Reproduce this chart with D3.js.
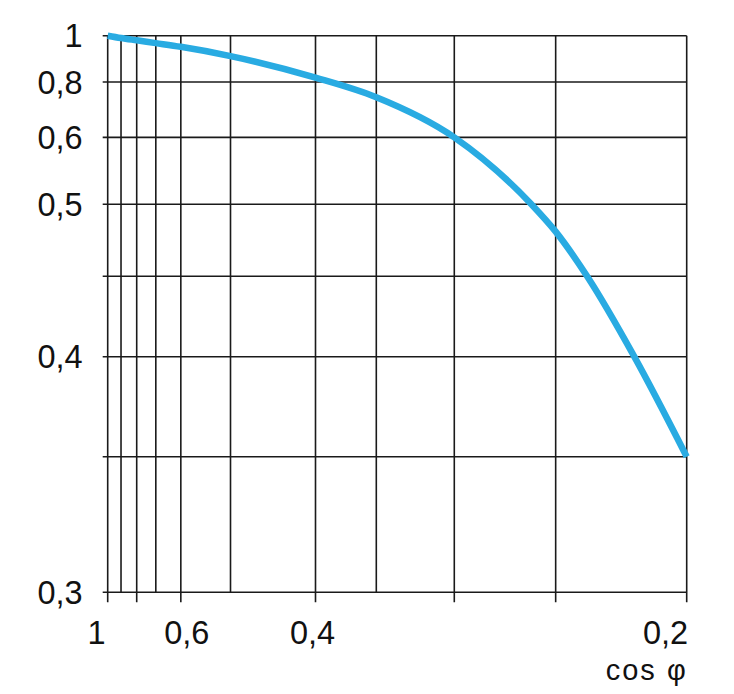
<!DOCTYPE html>
<html>
<head>
<meta charset="utf-8">
<script src="https://cdn.jsdelivr.net/npm/d3@7"></script>
<style>
  body { margin: 0; background: #fff; }
  svg text { font-family: "Liberation Sans", Arial, sans-serif; fill: #111; }
</style>
</head>
<body>
<svg id="chart"></svg>
<script>
// curve (cos phi -> factor)
const cosPhi = [1, 0.9, 0.8, 0.7, 0.6, 0.5, 0.4, 0.35, 0.3, 0.262, 0.25, 0.238, 0.22, 0.2];
const factor = [1, 0.99, 0.98, 0.968, 0.952, 0.912, 0.819, 0.745, 0.6, 0.5, 0.481, 0.45, 0.4, 0.35];

// grid and tick values
const xGrid = [1, 0.9, 0.8, 0.7, 0.6, 0.5, 0.4, 0.35, 0.3, 0.25, 0.2];
const xTicks = [1, 0.8, 0.6, 0.4, 0.3, 0.25, 0.2];
const xLabels = [1, 0.6, 0.4, 0.2];
const yGrid = [1, 0.8, 0.6, 0.5, 0.45, 0.4, 0.35, 0.3];
const yLabels = [1, 0.8, 0.6, 0.5, 0.4, 0.3];

class CosPhiChart {
  constructor(id, width, height) {
    this.width = 579;
    this.height = 556.6;
    this.margin = {left: 107.7, top: 35.7};
    this.svg = d3.select(id)
      .attr('width', width)
      .attr('height', height)
      .append('g')
      .attr('transform', `translate(${this.margin.left}, ${this.margin.top})`);

    // the paper grid is not evenly spaced, so map each gridline to its place
    this.xScale = d3.scaleLinear()
      .domain(xGrid)
      .range([0, 0.023, 0.0501, 0.0831, 0.1263, 0.2121, 0.3589, 0.4639, 0.5986, 0.7737, 1]
        .map(f => f * this.width));
    this.yScale = d3.scaleLinear()
      .domain(yGrid)
      .range([0, 0.0832, 0.1826, 0.3028, 0.4323, 0.5767, 0.7564, 1]
        .map(f => f * this.height));

    this.drawGrid();
    this.drawLabels();
    this.drawCurve();
  }

  fmt(d) {
    return String(d).replace('.', ',');
  }

  drawGrid() {
    const grid = this.svg.append('g')
      .attr('stroke', '#1a1a1a')
      .attr('stroke-width', 1.6);

    grid.selectAll('.hline')
      .data(yGrid)
      .enter()
      .append('line')
      .attr('x1', -5)
      .attr('x2', this.width)
      .attr('y1', d => this.yScale(d))
      .attr('y2', d => this.yScale(d));

    grid.selectAll('.vline')
      .data(xGrid)
      .enter()
      .append('line')
      .attr('x1', d => this.xScale(d))
      .attr('x2', d => this.xScale(d))
      .attr('y1', 0)
      .attr('y2', d => this.height + (xTicks.includes(d) ? 10 : 0));
  }

  drawLabels() {
    this.svg.selectAll('.ylabel')
      .data(yLabels)
      .enter()
      .append('text')
      .attr('x', -25)
      .attr('y', d => this.yScale(d))
      .attr('dy', '0.36em')
      .attr('text-anchor', 'end')
      .style('font-size', '32.5px')
      .text(d => this.fmt(d));

    // labels sit a little off their gridlines in the original
    const nudge = {1: -2, 0.6: 6, 0.4: -3, 0.2: 1.5};
    const last = xLabels.length - 1;
    this.svg.selectAll('.xlabel')
      .data(xLabels)
      .enter()
      .append('text')
      .attr('x', d => this.xScale(d) + nudge[d])
      .attr('y', this.height + 52)
      .attr('text-anchor', (d, i) => (i == 0 || i == last) ? 'end' : 'middle')
      .style('font-size', '32.5px')
      .text(d => this.fmt(d));

    this.svg.append('text')
      .attr('x', this.width + 1)
      .attr('y', this.height + 88)
      .attr('text-anchor', 'end')
      .style('font-size', '29px')
      .style('letter-spacing', '2px')
      .text('cos φ');
  }

  drawCurve() {
    const points = cosPhi.map((c, i) => [c, factor[i]]);
    const line = d3.line()
      .x(d => this.xScale(d[0]))
      .y(d => this.yScale(d[1]))
      .curve(d3.curveMonotoneX);

    this.svg.append('path')
      .datum(points)
      .attr('d', line)
      .attr('fill', 'none')
      .attr('stroke', '#29abe2')
      .attr('stroke-width', 6.5);
  }
}

new CosPhiChart('#chart', 734, 694);
</script>
</body>
</html>
